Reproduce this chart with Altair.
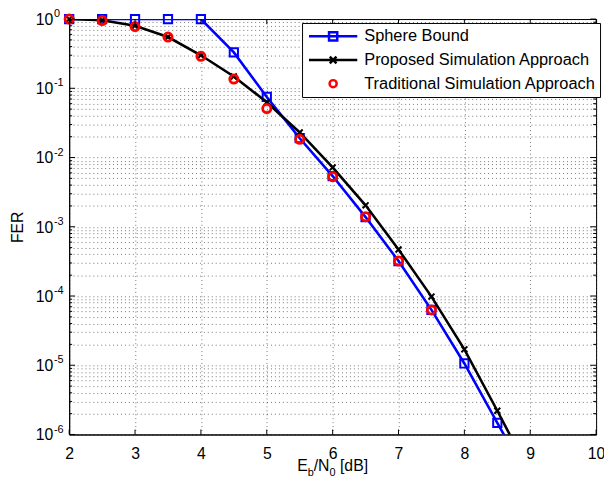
import altair as alt
import pandas as pd

# ---------------- data ----------------
x_vals = [2.0, 2.5, 3.0, 3.5, 4.0, 4.5, 5.0, 5.5, 6.0, 6.5, 7.0, 7.5, 8.0, 8.5, 9.0]
sphere = [1.0, 1.0, 1.0, 1.0, 1.0, 0.33, 0.075, 0.019, 0.0054, 0.00138, 3.2e-4,
          6.3e-5, 1.06e-5, 1.47e-6, 2.1e-7]
proposed = [1.0, 0.96, 0.80, 0.55, 0.30, 0.148, 0.063, 0.023, 0.0072, 0.00204, 4.7e-4,
            9.8e-5, 1.7e-5, 2.2e-6, 2.7e-7]
trad_x = [2.0, 2.5, 3.0, 3.5, 4.0, 4.5, 5.0, 5.5, 6.0, 6.5, 7.0, 7.5]
traditional = [1.0, 0.95, 0.78, 0.55, 0.29, 0.136, 0.051, 0.0183, 0.0053, 0.0014,
               3.2e-4, 6.3e-5]

series_names = ["Sphere Bound", "Proposed Simulation Approach",
                "Traditional Simulation Approach"]
series_colors = ["#0000ff", "#000000", "#ff0000"]

x_ticks = [2, 3, 4, 5, 6, 7, 8, 9, 10]
y_major = [1.0, 1e-1, 1e-2, 1e-3, 1e-4, 1e-5, 1e-6]
y_exp = ["0", "-1", "-2", "-3", "-4", "-5", "-6"]
y_minor = [m * 10.0 ** e for e in range(-6, 0) for m in range(2, 10)]

# ---------------- layout ----------------
W, H = 534, 421
FONT = "Liberation Sans"

df_s = pd.DataFrame({"x": x_vals, "v": sphere})
df_p = pd.DataFrame({"x": x_vals, "v": proposed})
df_t = pd.DataFrame({"x": trad_x, "v": traditional})

xs = alt.Scale(domain=[2, 10], nice=False, zero=False)
ys = alt.Scale(type="log", domain=[1e-6, 1], nice=False)
X = alt.X("x:Q", scale=xs,
          axis=alt.Axis(values=x_ticks, format="d", grid=True, ticks=False,
                        labelPadding=11, labelFlush=False, title=None))
Y = alt.Y("v:Q", scale=ys,
          axis=alt.Axis(values=y_major + y_minor, labels=False, ticks=False,
                        grid=True, title="FER", titlePadding=44))

in_range = alt.datum.v >= 1e-6

sphere_line = alt.Chart(df_s).mark_line(clip=True, color=series_colors[0],
                                        strokeWidth=2.6).encode(x=X, y=Y)
sphere_pts = alt.Chart(df_s).transform_filter(in_range).mark_point(
    shape="square", filled=False, size=70, strokeWidth=2,
    color=series_colors[0], opacity=1).encode(x=X, y=Y)
prop_line = alt.Chart(df_p).mark_line(clip=True, color=series_colors[1],
                                      strokeWidth=2.6).encode(x=X, y=Y)
cross_path = "M-1,-1L1,1M-1,1L1,-1"
prop_pts = alt.Chart(df_p).transform_filter(in_range).mark_point(
    shape=cross_path, filled=False, size=36, strokeWidth=2,
    color=series_colors[1], opacity=1).encode(x=X, y=Y)
trad_pts = alt.Chart(df_t).mark_point(
    shape="circle", filled=False, size=70, strokeWidth=2.8,
    color=series_colors[2], opacity=1).encode(x=X, y=Y)

# inward ticks (MATLAB style)
df_xt = pd.DataFrame({"x": x_ticks})
df_ymaj = pd.DataFrame({"v": y_major, "e": y_exp, "b": ["10"] * len(y_major)})
df_ymin = pd.DataFrame({"v": y_minor})
tick_layers = [
    alt.Chart(df_xt).mark_rule(color="black", strokeWidth=1).encode(
        x=X, y=alt.value(H), y2=alt.value(H - 5)),
    alt.Chart(df_xt).mark_rule(color="black", strokeWidth=1).encode(
        x=X, y=alt.value(0), y2=alt.value(5)),
    alt.Chart(df_ymaj).mark_rule(color="black", strokeWidth=1).encode(
        y=Y, x=alt.value(0), x2=alt.value(6)),
    alt.Chart(df_ymaj).mark_rule(color="black", strokeWidth=1).encode(
        y=Y, x=alt.value(W), x2=alt.value(W - 6)),
    alt.Chart(df_ymin).mark_rule(color="black", strokeWidth=1).encode(
        y=Y, x=alt.value(0), x2=alt.value(3)),
    alt.Chart(df_ymin).mark_rule(color="black", strokeWidth=1).encode(
        y=Y, x=alt.value(W), x2=alt.value(W - 3)),
]

# y tick labels 10^k
ylab_base = alt.Chart(df_ymaj).mark_text(
    align="right", baseline="middle", font=FONT, fontSize=16, color="black",
    dy=1).encode(y=Y, x=alt.value(-16), text="b:N")
ylab_exp = alt.Chart(df_ymaj).mark_text(
    align="left", baseline="middle", font=FONT, fontSize=11, color="black",
    dy=-5).encode(y=Y, x=alt.value(-15.5), text="e:N")

# x title  E_b/N_0 [dB]
title_parts = [("E", 16, 0, 0.0), ("b", 11, 5, 0.0), ("/N", 16, 0, 0.0),
               ("0", 11, 5, 0.0), ("[dB]", 16, 0, 4.5)]
widths = {"E": 10.67, "b": 6.1, "/N": 16.0, "0": 6.1, "[dB]": 28.5}
total_w = sum(widths[p[0]] + p[3] for p in title_parts)
cur = W / 2 - total_w / 2
xtitle_layers = []
for txt, fs, dyy, gap in title_parts:
    cur += gap
    xtitle_layers.append(
        alt.Chart(pd.DataFrame({"t": [txt]})).mark_text(
            align="left", baseline="alphabetic", font=FONT, fontSize=fs,
            color="black").encode(x=alt.value(cur), y=alt.value(H + 37 + dyy),
                                  text="t:N"))
    cur += widths[txt]

# legend (line + marker symbols)
legend_shapes = [
    "M-3.06,0H3.06M-0.52,-0.52H0.52V0.52H-0.52Z",
    "M-3.06,0H3.06M-0.42,-0.42L0.42,0.42M-0.42,0.42L0.42,-0.42",
    "M0.45,0A0.45,0.45,0,1,1,-0.45,0A0.45,0.45,0,1,1,0.45,0Z",
]
leg = alt.Legend(title=None, orient="none", legendX=236, legendY=4,
                 direction="vertical", fillColor="white", strokeColor="black",
                 cornerRadius=0, padding=4, rowPadding=5,
                 symbolSize=256, symbolStrokeWidth=2.5, symbolOffset=18,
                 labelOffset=22, labelFont=FONT, labelFontSize=16.6,
                 labelColor="black", labelLimit=400)
leg_df = pd.DataFrame({"series": series_names})
legend_layer = alt.Chart(leg_df).transform_filter("false").mark_point(
    filled=False, size=256, strokeWidth=2.5, opacity=1).encode(
    color=alt.Color("series:N", scale=alt.Scale(domain=series_names,
                                                 range=series_colors),
                    legend=leg),
    shape=alt.Shape("series:N", scale=alt.Scale(domain=series_names,
                                                 range=legend_shapes),
                    legend=leg),
)

chart = alt.layer(
    sphere_line, sphere_pts, prop_line, prop_pts, trad_pts,
    *tick_layers, ylab_base, ylab_exp, *xtitle_layers, legend_layer,
).properties(
    width=W, height=H,
    padding={"left": 62, "top": 8, "right": 8, "bottom": 48},
    autosize=alt.AutoSizeParams(type="none"),
    background="white",
).configure_view(stroke="black", strokeWidth=1).configure_axis(
    domainColor="black", domainWidth=1, gridColor="black", gridOpacity=0.55,
    gridDash=[1, 3], gridWidth=1, labelFont=FONT, labelFontSize=16,
    labelColor="black", titleFont=FONT, titleFontSize=16, titleColor="black",
    titleFontWeight="normal",
)

chart.save("out.html", embed_options={"renderer": "svg", "actions": False})
